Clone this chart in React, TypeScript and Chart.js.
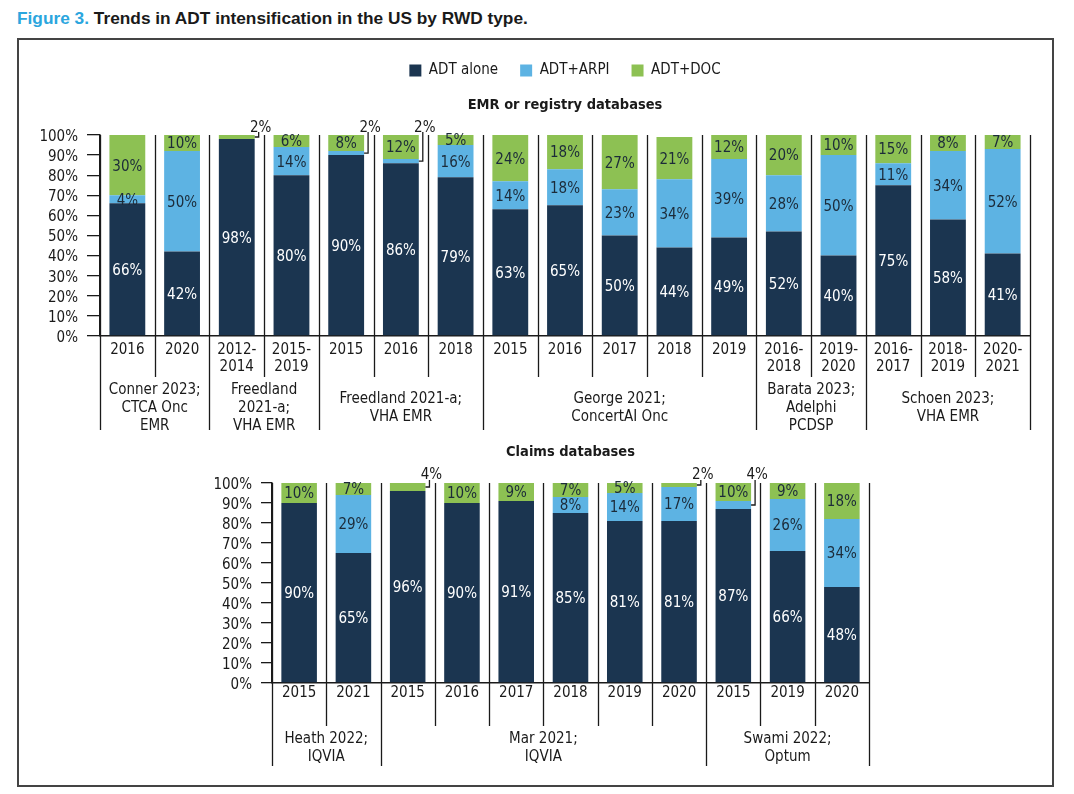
import React, { useEffect, useRef } from 'react';
import { Chart, registerables } from 'chart.js';

Chart.register(...registerables);

const NARROW = "'DejaVu Sans Condensed', 'Liberation Sans Narrow', sans-serif";
const FS = 15;
const INK = '#1a1a1a';

// ---- series (shared) ----
const seriesNames = ['ADT alone', 'ADT+ARPI', 'ADT+DOC'];
const seriesColors = ['#1b3550', '#5db3e3', '#8dc153'];

// ---- EMR or registry databases ----
const emrCategories = [
  ['2016'], ['2020'], ['2012-', '2014'], ['2015-', '2019'], ['2015'], ['2016'], ['2018'],
  ['2015'], ['2016'], ['2017'], ['2018'], ['2019'], ['2016-', '2018'], ['2019-', '2020'],
  ['2016-', '2017'], ['2018-', '2019'], ['2020-', '2021'],
];
const emrAdtAlone = [66, 42, 98, 80, 90, 86, 79, 63, 65, 50, 44, 49, 52, 40, 75, 58, 41];
const emrAdtArpi = [4, 50, 0, 14, 2, 2, 16, 14, 18, 23, 34, 39, 28, 50, 11, 34, 52];
const emrAdtDoc = [30, 10, 2, 6, 8, 12, 5, 24, 18, 27, 21, 12, 20, 10, 15, 8, 7];
const emrGroupSizes = [2, 2, 3, 5, 2, 3];
const emrGroupLabels = [
  ['Conner 2023;', 'CTCA Onc', 'EMR'],
  ['Freedland', '2021-a;', 'VHA EMR'],
  ['Freedland 2021-a;', 'VHA EMR'],
  ['George 2021;', 'ConcertAI Onc'],
  ['Barata 2023;', 'Adelphi', 'PCDSP'],
  ['Schoen 2023;', 'VHA EMR'],
];
// [category index, series index] of values labelled outside the bar
const emrCallouts = [[2, 2], [4, 1], [5, 1]];

// ---- Claims databases ----
const claimsCategories = ['2015', '2021', '2015', '2016', '2017', '2018', '2019', '2020', '2015', '2019', '2020'];
const claimsAdtAlone = [90, 65, 96, 90, 91, 85, 81, 81, 87, 66, 48];
const claimsAdtArpi = [0, 29, 0, 0, 0, 8, 14, 17, 4, 26, 34];
const claimsAdtDoc = [10, 7, 4, 10, 9, 7, 5, 2, 10, 9, 18];
const claimsGroupSizes = [2, 6, 3];
const claimsGroupLabels = [
  ['Heath 2022;', 'IQVIA'],
  ['Mar 2021;', 'IQVIA'],
  ['Swami 2022;', 'Optum'],
];
const claimsCallouts = [[2, 2], [7, 2], [8, 1]];

const yMin = 0;
const yMax = 100;
const yStep = 10;

interface PanelSpec {
  categories: (string | string[])[];
  series: number[][];
  groupSizes: number[];
  groupLabels: string[][];
  callouts: number[][];
  title: string;
  legend: boolean;
  yAxisWidth: number;
  pad: { top: number; right: number; bottom: number; left: number };
  titlePad: { top: number; bottom: number };
  xAxisHeight: number;
  tickLength: number;
  xLabelPad: number;
  shortExt: number;
  longExt: number;
  groupLabelY: number;
  calloutY: number;
}

function decorPlugin(spec: PanelSpec) {
  return {
    id: 'panelDecor',
    afterDatasetsDraw(chart: any) {
      const ctx = chart.ctx;
      const a = chart.chartArea;
      ctx.save();
      ctx.font = `${FS}px ${NARROW}`;
      ctx.textAlign = 'center';
      ctx.textBaseline = 'middle';
      chart.data.datasets.forEach((ds: any, d: number) => {
        const meta = chart.getDatasetMeta(d);
        meta.data.forEach((el: any, i: number) => {
          const v = ds.data[i] as number;
          if (!v) return;
          const p = el.getProps(['x', 'y', 'base', 'width'], true);
          const top = Math.max(Math.min(p.y, p.base), a.top);
          const bot = Math.min(Math.max(p.y, p.base), a.bottom);
          const txt = Math.round(v) + '%';
          const isCallout = spec.callouts.some((c) => c[0] === i && c[1] === d);
          if (isCallout) {
            const right = p.x + p.width / 2;
            const cy = (top + bot) / 2;
            ctx.strokeStyle = INK;
            ctx.lineWidth = 1.3;
            ctx.beginPath();
            ctx.moveTo(right, cy);
            ctx.lineTo(right + 4, cy);
            ctx.lineTo(right + 4, a.top - 3);
            ctx.stroke();
            ctx.fillStyle = INK;
            ctx.fillText(txt, right + 6, a.top - spec.calloutY);
          } else {
            ctx.fillStyle = d === 0 ? '#ffffff' : '#1c2b39';
            ctx.fillText(txt, p.x, (top + bot) / 2 + 1.5);
          }
        });
      });
      ctx.restore();
    },
    afterDraw(chart: any) {
      const ctx = chart.ctx;
      const a = chart.chartArea;
      const n = spec.categories.length;
      const w = (a.right - a.left) / n;
      const bounds = new Set<number>([0]);
      let acc = 0;
      spec.groupSizes.forEach((s) => {
        acc += s;
        bounds.add(acc);
      });
      ctx.save();
      ctx.strokeStyle = INK;
      ctx.lineWidth = 1.3;
      for (let k = 0; k <= n; k++) {
        const x = Math.round(a.left + k * w) + 0.5;
        const y1 = a.bottom + (bounds.has(k) ? spec.longExt : spec.shortExt);
        ctx.beginPath();
        ctx.moveTo(x, a.top);
        ctx.lineTo(x, y1);
        ctx.stroke();
      }
      ctx.font = `${FS}px ${NARROW}`;
      ctx.fillStyle = INK;
      ctx.textAlign = 'center';
      ctx.textBaseline = 'middle';
      let start = 0;
      spec.groupSizes.forEach((s, g) => {
        const cx = a.left + (start + s / 2) * w;
        const lines = spec.groupLabels[g];
        lines.forEach((line, j) => {
          ctx.fillText(line, cx, a.bottom + spec.groupLabelY + (j - (lines.length - 1) / 2) * 18);
        });
        start += s;
      });
      ctx.restore();
    },
  };
}

function buildConfig(spec: PanelSpec): any {
  return {
    type: 'bar',
    data: {
      labels: spec.categories,
      datasets: spec.series.map((vals, i) => ({
        label: seriesNames[i],
        data: vals,
        backgroundColor: seriesColors[i],
        borderWidth: 0,
        categoryPercentage: 1,
        barPercentage: 0.655,
        clip: 0,
      })),
    },
    options: {
      responsive: false,
      animation: false,
      events: [],
      layout: { padding: spec.pad },
      plugins: {
        legend: {
          display: spec.legend,
          position: 'top',
          fullSize: false,
          labels: {
            boxWidth: 12,
            boxHeight: 12,
            padding: 22,
            color: INK,
            font: { family: NARROW, size: FS },
          },
        },
        title: {
          display: true,
          text: spec.title,
          fullSize: false,
          weight: 500,
          color: INK,
          font: { family: NARROW, size: 14.5, weight: 'bold' },
          padding: spec.titlePad,
        },
        tooltip: { enabled: false },
      },
      scales: {
        x: {
          stacked: true,
          offset: true,
          grid: { display: false, drawTicks: false },
          border: { display: true, color: INK, width: 1.5 },
          ticks: {
            autoSkip: false,
            maxRotation: 0,
            minRotation: 0,
            padding: spec.xLabelPad,
            color: INK,
            font: { family: NARROW, size: FS, lineHeight: 17 / FS },
          },
          afterFit: (s: any) => {
            s.height = spec.xAxisHeight;
          },
        },
        y: {
          stacked: true,
          min: yMin,
          max: yMax,
          grid: {
            display: true,
            drawOnChartArea: false,
            drawTicks: true,
            tickLength: spec.tickLength,
            color: INK,
            lineWidth: 1.3,
          },
          border: { display: true, color: INK, width: 1.5 },
          ticks: {
            stepSize: yStep,
            autoSkip: false,
            padding: 9,
            labelOffset: 2,
            color: INK,
            font: { family: NARROW, size: FS, lineHeight: 1 },
            callback: (v: any) => v + '%',
          },
          afterFit: (s: any) => {
            s.width = spec.yAxisWidth;
          },
        },
      },
    },
    plugins: [decorPlugin(spec)],
  };
}

const EMR_SPEC: PanelSpec = {
  categories: emrCategories,
  series: [emrAdtAlone, emrAdtArpi, emrAdtDoc],
  groupSizes: emrGroupSizes,
  groupLabels: emrGroupLabels,
  callouts: emrCallouts,
  title: 'EMR or registry databases',
  legend: true,
  yAxisWidth: 100,
  pad: { top: 21, right: 44, bottom: 0, left: 0 },
  titlePad: { top: 8.5, bottom: 21.1 },
  xAxisHeight: 104,
  tickLength: 13,
  xLabelPad: 6,
  shortExt: 41,
  longExt: 94,
  groupLabelY: 72,
  calloutY: 7,
};

const CLAIMS_SPEC: PanelSpec = {
  categories: claimsCategories,
  series: [claimsAdtAlone, claimsAdtArpi, claimsAdtDoc],
  groupSizes: claimsGroupSizes,
  groupLabels: claimsGroupLabels,
  callouts: claimsCallouts,
  title: 'Claims databases',
  legend: false,
  yAxisWidth: 222,
  pad: { top: 0, right: 205, bottom: 0, left: 0 },
  titlePad: { top: 4, bottom: 21.6 },
  xAxisHeight: 97,
  tickLength: 11,
  xLabelPad: 2,
  shortExt: 43,
  longExt: 83,
  groupLabelY: 65,
  calloutY: 8,
};

export default function App() {
  const topRef = useRef<HTMLCanvasElement>(null);
  const botRef = useRef<HTMLCanvasElement>(null);

  useEffect(() => {
    const c1 = new Chart(topRef.current as HTMLCanvasElement, buildConfig(EMR_SPEC));
    const c2 = new Chart(botRef.current as HTMLCanvasElement, buildConfig(CLAIMS_SPEC));
    return () => {
      c1.destroy();
      c2.destroy();
    };
  }, []);

  return (
    <div
      style={{
        position: 'fixed',
        left: 0,
        top: 0,
        width: 1074,
        height: 794,
        background: '#ffffff',
        overflow: 'hidden',
      }}
    >
      <div
        style={{
          position: 'absolute',
          left: 17,
          top: 8,
          fontFamily: "'Liberation Sans', Arial, sans-serif",
          fontWeight: 'bold',
          fontSize: 17.3,
          lineHeight: '20px',
          color: INK,
          whiteSpace: 'nowrap',
        }}
      >
        <span style={{ color: '#2ba6de' }}>Figure 3.</span> Trends in ADT intensification in the US by RWD type.
      </div>
      <div
        style={{
          position: 'absolute',
          left: 17,
          top: 38,
          width: 1037,
          height: 749,
          border: '2px solid #444',
          boxSizing: 'border-box',
        }}
      />
      <canvas
        ref={topRef}
        width={1074}
        height={420}
        style={{ position: 'absolute', left: 0, top: 20, width: 1074, height: 420 }}
      />
      <canvas
        ref={botRef}
        width={1024}
        height={340}
        style={{ position: 'absolute', left: 50, top: 440, width: 1024, height: 340 }}
      />
    </div>
  );
}
